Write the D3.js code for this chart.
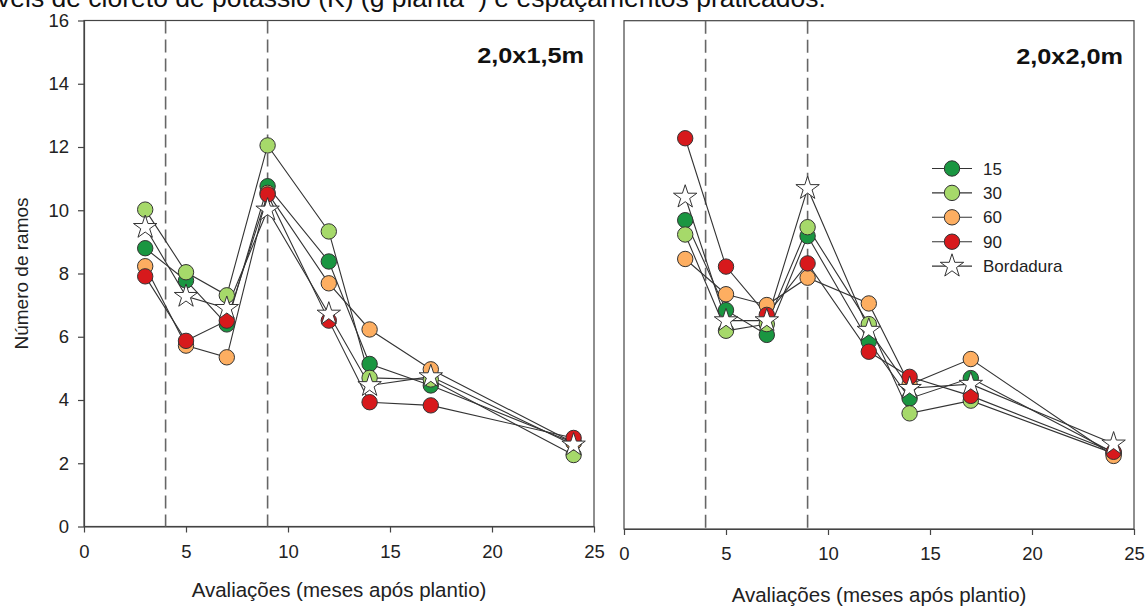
<!DOCTYPE html>
<html><head><meta charset="utf-8">
<script src="https://cdn.jsdelivr.net/npm/d3@7"></script>
<style>body{margin:0;background:#fff}svg{display:block;font-family:"Liberation Sans",Arial,sans-serif}</style>
</head><body><svg id="c" width="1147" height="608"></svg>
<script>
const months = [3,5,7,9,12,14,17,24];
const seriesNames = ["15","30","60","90","Bordadura"];
const seriesColors = ["#1a9641","#a6d96a","#fdae61","#d7191c","#ffffff"];
// Espaçamento 2,0x1,5m
const left15  = [8.80,7.78,6.39,10.76,8.38,5.14,4.46,2.65];
const left30  = [10.02,8.04,7.31,12.05,9.33,4.70,4.65,2.26];
const left60  = [8.23,5.72,5.35,10.55,7.69,6.23,4.97,2.65];
const left90  = [7.91,5.87,6.51,10.50,6.51,3.93,3.83,2.80];
const leftBord= [9.46,7.28,6.90,10.01,6.72,4.46,4.74,2.58];
// Espaçamento 2,0x2,0m
const right15  = [9.72,6.89,6.11,9.22,5.90,4.11,4.75,2.40];
const right30  = [9.27,6.24,6.45,9.50,6.45,3.64,4.04,2.38];
const right60  = [8.50,7.39,7.05,7.91,7.10,4.55,5.35,2.30];
const right90  = [12.30,8.26,6.74,8.36,5.58,4.79,4.19,2.43];
const rightBord= [10.45,6.56,6.56,10.72,6.26,4.43,4.56,2.68];
const xTicks = [0,5,10,15,20,25];
const yTicks = [0,2,4,6,8,10,12,14,16];
const phaseLines = [4,9];
const panelTitles = ["2,0x1,5m","2,0x2,0m"];
const xTitle = "Avaliações (meses após plantio)";
const yTitle = "Número de ramos";

const svg = d3.select("#c");
const ink = "#222";
const FF = "Liberation Sans, Arial, sans-serif";

// caption fragment at top (cut by the top edge, as in the source page)
const cap = svg.append("text").attr("x",-3).attr("y",7).attr("font-size",26.5).attr("fill","#111");
cap.append("tspan").text("veis de cloreto de potássio (K) (g planta");
cap.append("tspan").attr("font-size",16).attr("dy",-9).text("-1");
cap.append("tspan").attr("dy",9).text(") e espaçamentos praticados.");

const panels = [
  {x0:84, x1:594, y0:526.5, y1:20.5, data:[left15,left30,left60,left90,leftBord], title:panelTitles[0], yAxis:true, titleX:584, titleY:63, xtY:597},
  {x0:624, x1:1134, y0:529, y1:20.7, data:[right15,right30,right60,right90,rightBord], title:panelTitles[1], yAxis:false, titleX:1123, titleY:64, xtY:602, legend:true}
];

const star = d3.symbol().type(d3.symbolStar).size(170);

panels.forEach(p => {
  const x = d3.scaleLinear().domain([0,25]).range([p.x0,p.x1]);
  const y = d3.scaleLinear().domain([0,16]).range([p.y0,p.y1]);
  const g = svg.append("g");
  g.append("rect").attr("x",p.x0).attr("y",p.y1).attr("width",p.x1-p.x0).attr("height",p.y0-p.y1)
    .attr("fill","none").attr("stroke","#444").attr("stroke-width",1.2);
  const xa = g.append("g").attr("transform",`translate(0,${p.y0})`)
    .call(d3.axisBottom(x).tickValues(xTicks).tickSize(6).tickPadding(12).tickSizeOuter(0));
  xa.select(".domain").attr("stroke","#444").attr("stroke-width",1.2);
  xa.selectAll(".tick line").attr("stroke","#444").attr("stroke-width",1.2);
  xa.selectAll("text").attr("font-size",18.5).attr("fill",ink).attr("font-family",FF);
  if (p.yAxis) {
    const ya = g.append("g").attr("transform",`translate(${p.x0},0)`)
      .call(d3.axisLeft(y).tickValues(yTicks).tickSize(6).tickPadding(9).tickSizeOuter(0));
    ya.select(".domain").attr("stroke","#444").attr("stroke-width",1.2);
    ya.selectAll(".tick line").attr("stroke","#444").attr("stroke-width",1.2);
    ya.selectAll("text").attr("font-size",18.5).attr("fill",ink).attr("font-family",FF);
    g.append("text").attr("transform",`translate(28,${(p.y0+p.y1)/2}) rotate(-90)`)
      .attr("text-anchor","middle").attr("font-size",19).attr("fill",ink).text(yTitle);
  }
  phaseLines.forEach(v => {
    g.append("line").attr("x1",x(v)).attr("x2",x(v)).attr("y1",p.y1).attr("y2",p.y0)
      .attr("stroke","#666").attr("stroke-width",1.6).attr("stroke-dasharray","13,6");
  });
  g.append("text").attr("transform",`translate(${p.titleX},${p.titleY}) scale(1.15,1)`).attr("text-anchor","end")
    .attr("font-size",22).attr("font-weight","bold").attr("fill","#111").text(p.title);
  g.append("text").attr("x",(p.x0+p.x1)/2).attr("y",p.xtY).attr("text-anchor","middle")
    .attr("font-size",20.5).attr("fill",ink).text(xTitle);
  const line = d3.line().x((d,i)=>x(months[i])).y(d=>y(d));
  p.data.forEach(s => {
    g.append("path").attr("d",line(s)).attr("fill","none").attr("stroke","#333").attr("stroke-width",1.1);
  });
  p.data.forEach((s,si) => {
    s.forEach((v,i) => {
      if (si===4) {
        g.append("path").attr("d",star).attr("transform",`translate(${x(months[i])},${y(v)})`)
          .attr("fill","#fff").attr("stroke","#333").attr("stroke-width",1);
      } else {
        g.append("circle").attr("cx",x(months[i])).attr("cy",y(v)).attr("r",7.7)
          .attr("fill",seriesColors[si]).attr("stroke","#333").attr("stroke-width",1);
      }
    });
  });
  if (p.legend) {
    const lg = g.append("g");
    seriesNames.forEach((n,i) => {
      const yy = 168.5 + i*24.4;
      lg.append("line").attr("x1",932).attr("x2",972).attr("y1",yy).attr("y2",yy).attr("stroke","#333").attr("stroke-width",1.1);
      if (i===4) {
        lg.append("path").attr("d",star).attr("transform",`translate(952,${yy})`).attr("fill","#fff").attr("stroke","#333");
      } else {
        lg.append("circle").attr("cx",952).attr("cy",yy).attr("r",7.7).attr("fill",seriesColors[i]).attr("stroke","#333");
      }
      lg.append("text").attr("x",983).attr("y",yy+6).attr("font-size",17).attr("fill",ink).text(n);
    });
  }
});
</script></body></html>
